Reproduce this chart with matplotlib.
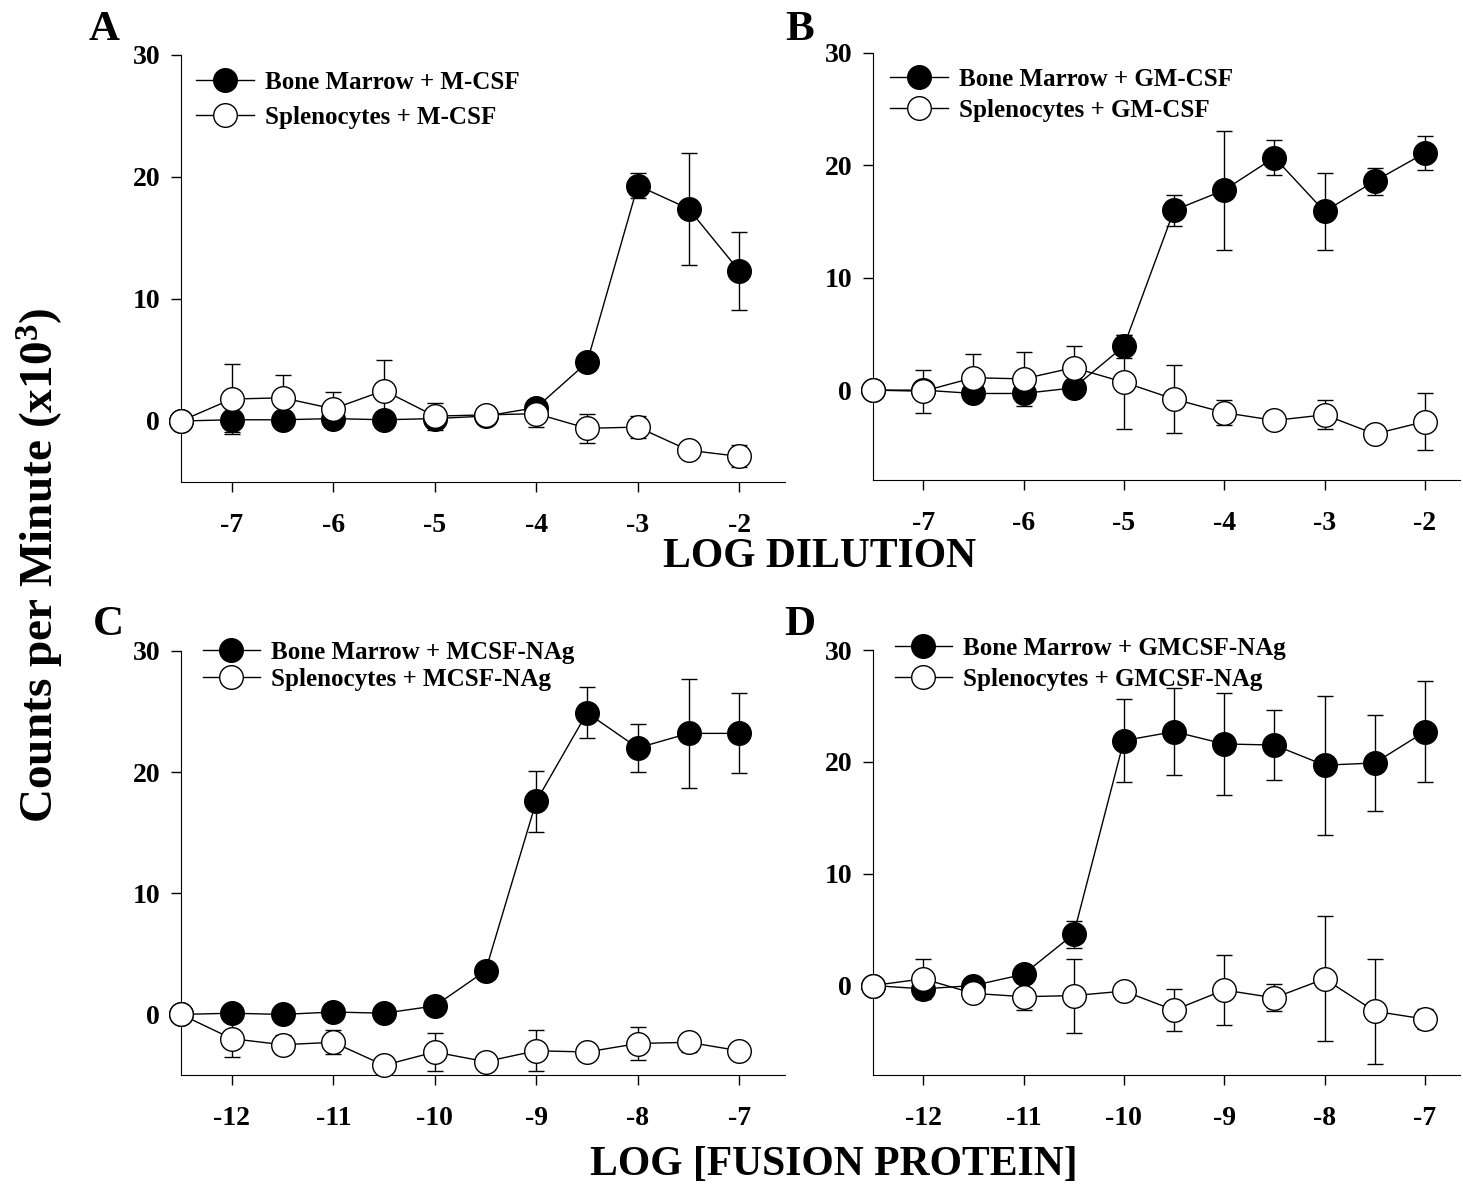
import numpy as np
import matplotlib
matplotlib.use('Agg')
import matplotlib.pyplot as plt

# x positions (log units)
x_dil = [-7.5, -7, -6.5, -6, -5.5, -5, -4.5, -4, -3.5, -3, -2.5, -2]
x_fus = [-12.5, -12, -11.5, -11, -10.5, -10, -9.5, -9, -8.5, -8, -7.5, -7]

# panel A: M-CSF
a_bm = [0, 0.1, 0.1, 0.2, 0.1, 0.2, 0.4, 1.1, 4.8, 19.3, 17.4, 12.3]
a_bm_err = [0, 1.0, 0.3, 0.3, 0.3, 0.6, 0.3, 0.4, 0.3, 1.0, 4.6, 3.2]
a_sp = [0, 1.8, 1.9, 1.0, 2.5, 0.4, 0.5, 0.6, -0.6, -0.5, -2.4, -2.9]
a_sp_err = [0, 2.9, 1.9, 1.4, 2.5, 1.1, 0.5, 1.1, 1.2, 0.9, 0.3, 0.9]

# panel B: GM-CSF
b_bm = [0, 0, -0.3, -0.3, 0.2, 3.9, 16.0, 17.8, 20.7, 15.9, 18.6, 21.1]
b_bm_err = [0, 0.3, 0.3, 0.8, 0.3, 1.0, 1.4, 5.3, 1.6, 3.4, 1.2, 1.5]
b_sp = [0, -0.1, 1.1, 1.0, 2.0, 0.7, -0.8, -2.0, -2.7, -2.2, -3.9, -2.8]
b_sp_err = [0, 1.9, 2.1, 2.4, 1.9, 4.2, 3.0, 1.1, 0.8, 1.3, 0.3, 2.5]

# panel C: MCSF-NAg
c_bm = [0, 0.1, 0.0, 0.2, 0.1, 0.7, 3.6, 17.6, 24.9, 22.0, 23.2, 23.2]
c_bm_err = [0, 0.3, 0.3, 0.3, 0.3, 0.3, 0.3, 2.5, 2.1, 2.0, 4.5, 3.3]
c_sp = [0, -2.0, -2.5, -2.3, -4.2, -3.1, -3.9, -3.0, -3.1, -2.4, -2.3, -3.0]
c_sp_err = [0, 1.5, 0.8, 1.0, 0.3, 1.6, 0.3, 1.7, 0.3, 1.4, 0.8, 0.3]

# panel D: GMCSF-NAg
d_bm = [0, -0.3, 0.0, 1.0, 4.6, 21.9, 22.7, 21.6, 21.5, 19.7, 19.9, 22.7]
d_bm_err = [0, 0.3, 0.3, 0.3, 1.2, 3.7, 3.9, 4.6, 3.1, 6.2, 4.3, 4.5]
d_sp = [0, 0.6, -0.7, -1.0, -0.9, -0.5, -2.2, -0.4, -1.1, 0.6, -2.3, -3.0]
d_sp_err = [0, 1.8, 0.3, 1.2, 3.3, 0.3, 1.9, 3.1, 1.2, 5.6, 4.7, 0.9]

plt.rcParams['font.family'] = ['Liberation Serif', 'DejaVu Serif']
plt.rcParams['font.weight'] = 'bold'
plt.rcParams['mathtext.default'] = 'regular'
plt.rcParams['axes.unicode_minus'] = False

fig = plt.figure(figsize=(14.63, 11.94), dpi=100)
W, H = 1463.0, 1194.0


def add_ax(l, r, t, b):
    return fig.add_axes([l / W, 1 - b / H, (r - l) / W, (b - t) / H])


panels = [
    # box, x, bm, bm_err, sp, sp_err, xlim, ylim, xticks, legend anchor, label spacing, letter pos, letter, names
    ((181, 785, 55, 482), x_dil, a_bm, a_bm_err, a_sp, a_sp_err, (-7.5, -1.55), (-5, 30),
     [-7, -6, -5, -4, -3, -2], (0.025, 0.963), 0.47, (104, 30), 'A',
     ['Bone Marrow + M-CSF', 'Splenocytes + M-CSF']),
    ((873, 1460, 53, 480), x_dil, b_bm, b_bm_err, b_sp, b_sp_err, (-7.5, -1.65), (-8, 30),
     [-7, -6, -5, -4, -3, -2], (0.029, 0.965), 0.31, (800, 30), 'B',
     ['Bone Marrow + GM-CSF', 'Splenocytes + GM-CSF']),
    ((181, 785, 651, 1075), x_fus, c_bm, c_bm_err, c_sp, c_sp_err, (-12.5, -6.55), (-5, 30),
     [-12, -11, -10, -9, -8, -7], (0.036, 1.024), 0.15, (108, 625), 'C',
     ['Bone Marrow + MCSF-NAg', 'Splenocytes + MCSF-NAg']),
    ((873, 1460, 650, 1075), x_fus, d_bm, d_bm_err, d_sp, d_sp_err, (-12.5, -6.65), (-8, 30),
     [-12, -11, -10, -9, -8, -7], (0.037, 1.031), 0.31, (800, 625), 'D',
     ['Bone Marrow + GMCSF-NAg', 'Splenocytes + GMCSF-NAg']),
]

for box, x, bm, bme, sp, spe, xl, yl, xt, anchor, lsp, lpos, letter, names in panels:
    ax = add_ax(*box)
    ax.errorbar(x, bm, yerr=bme, fmt='none', ecolor='black', elinewidth=1,
                capsize=6, capthick=1, zorder=1)
    ax.errorbar(x, sp, yerr=spe, fmt='none', ecolor='black', elinewidth=1,
                capsize=6, capthick=1, zorder=1)
    ax.plot(x, bm, '-o', color='black', lw=1, ms=17, mfc='black', mec='black',
            mew=1, label=names[0], zorder=2, clip_on=False)
    ax.plot(x, sp, '-o', color='black', lw=1, ms=17, mfc='white', mec='black',
            mew=1, label=names[1], zorder=3, clip_on=False)
    ax.set_xlim(*xl)
    ax.set_ylim(*yl)
    ax.set_xticks(xt)
    ax.set_yticks([0, 10, 20, 30])
    ax.spines['top'].set_visible(False)
    ax.spines['right'].set_visible(False)
    ax.tick_params(direction='out', length=7, width=1, labelsize=20)
    ax.tick_params(axis='x', pad=15)
    ax.tick_params(axis='y', pad=8)
    for t in ax.get_xticklabels() + ax.get_yticklabels():
        t.set_fontweight('bold')
    leg = ax.legend(loc='upper left', bbox_to_anchor=anchor, frameon=False,
                    fontsize=18, numpoints=1, handlelength=2.3,
                    handletextpad=0.45, labelspacing=lsp, borderpad=0,
                    borderaxespad=0)
    for t in leg.get_texts():
        t.set_fontweight('bold')
    fig.text(lpos[0] / W, 1 - lpos[1] / H, letter, fontsize=31, fontweight='bold',
             ha='center', va='center')

fig.text(40 / W, 1 - 565 / H, 'Counts per Minute (x10$^3$)', rotation=90,
         fontsize=34, fontweight='bold', ha='center', va='center')
fig.text(820 / W, 1 - 557 / H, 'LOG DILUTION', fontsize=30, fontweight='bold',
         ha='center', va='center')
fig.text(834 / W, 1 - 1165 / H, 'LOG [FUSION PROTEIN]', fontsize=30,
         fontweight='bold', ha='center', va='center')

fig.savefig('out.png', dpi=100)
